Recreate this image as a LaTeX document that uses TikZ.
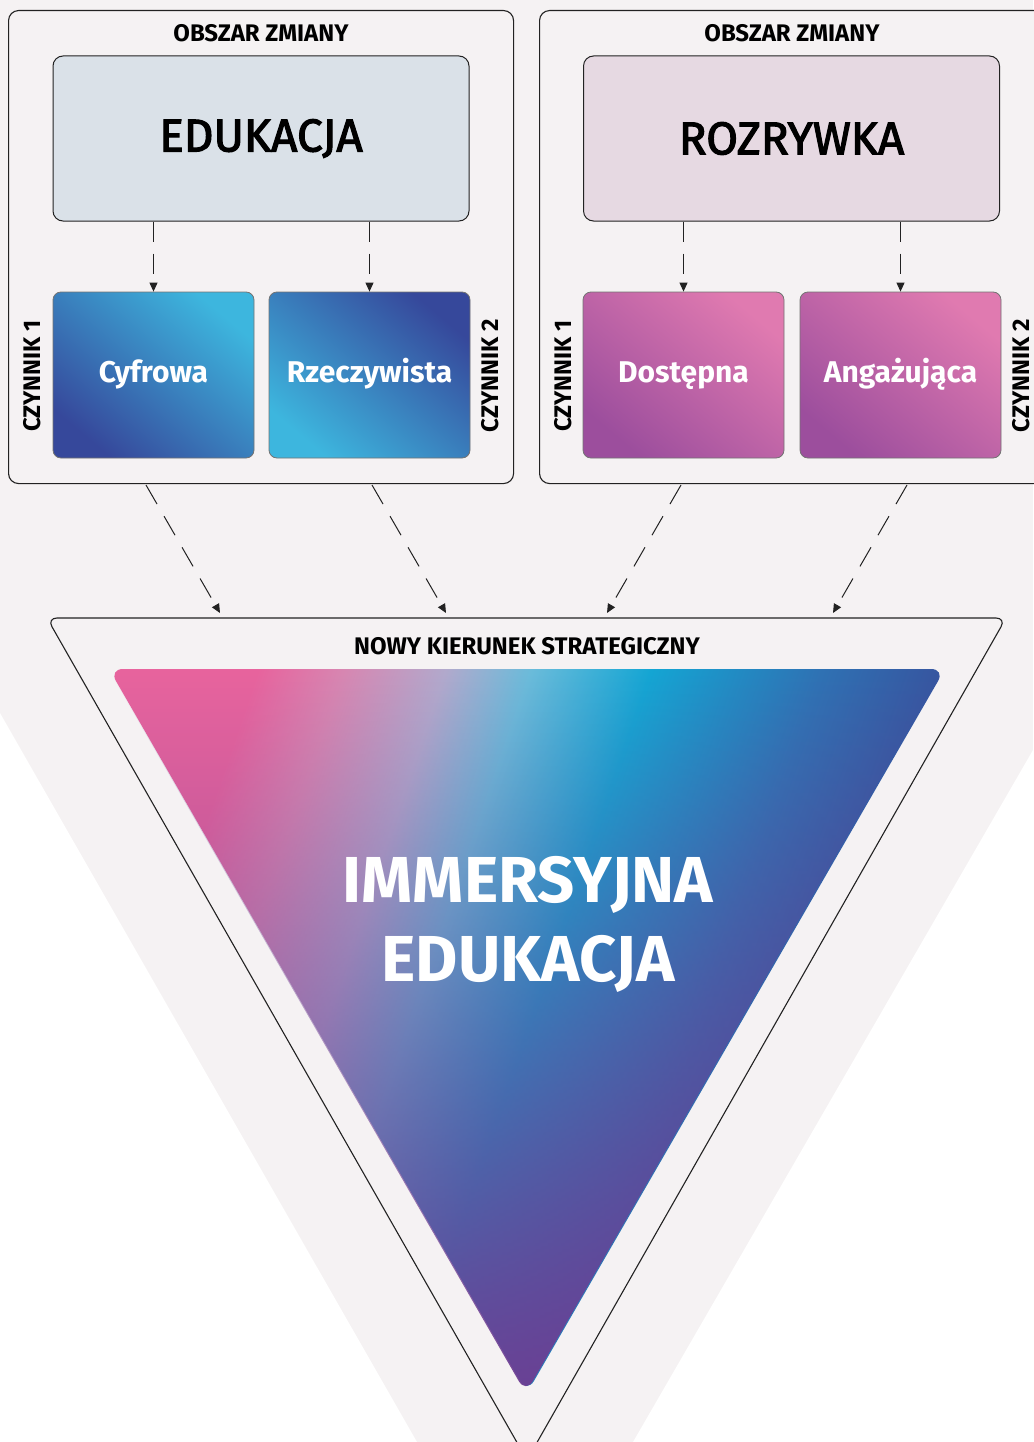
\documentclass[tikz,border=0pt]{standalone}
\usepackage{fontspec}
\setmainfont{Fira Sans}
\newfontfamily\medfont[FakeBold=2.5]{Fira Sans}
\usetikzlibrary{arrows.meta,fadings,calc}
\definecolor{bgc}{HTML}{F5F2F3}
\definecolor{edufill}{HTML}{DAE1E8}
\definecolor{rozfill}{HTML}{E6D9E2}
\definecolor{bdark}{HTML}{36489B}
\definecolor{bcyan}{HTML}{3DB6DE}
\definecolor{ppink}{HTML}{E07AB0}
\definecolor{ppurp}{HTML}{9C4E9D}
\definecolor{lineC}{HTML}{222222}
\definecolor{tpink}{HTML}{E8649E}
\definecolor{tpink2}{HTML}{D887B2}
\definecolor{tlav}{HTML}{B2AACD}
\definecolor{tlcyan}{HTML}{6ABCDB}
\definecolor{tcyan}{HTML}{14A6D4}
\definecolor{tblue}{HTML}{2F72B4}
\definecolor{tindigo}{HTML}{3A4A98}
\definecolor{tpurp}{HTML}{6E3D92}
\pgfdeclarehorizontalshading{trigrad}{100bp}{color(0bp)=(tpink); color(27bp)=(tpink); color(32bp)=(tpink2); color(38bp)=(tlav); color(43bp)=(tlcyan); color(50bp)=(tcyan); color(60bp)=(tblue); color(70bp)=(tindigo); color(100bp)=(tindigo)}
\tikzfading[name=fadedown, top color=transparent!100, middle color=transparent!90, bottom color=transparent!5]
\tikzset{
  areabox/.style={draw=lineC, line width=1.1pt, rounded corners=10pt, fill=bgc, inner sep=0pt},
  bigbox/.style={draw=lineC, line width=1pt, rounded corners=10pt, inner sep=0pt, minimum width=416pt, minimum height=165pt, font=\medfont\fontsize{46}{52}\selectfont, text=black},
  factor/.style={draw=black!55, line width=0.8pt, rounded corners=8pt, inner sep=0pt, minimum width=201pt, minimum height=166pt, text height=21pt, text depth=7pt, text=white, font=\bfseries\fontsize{30}{34}\selectfont},
  bluebox/.style={factor, top color=bcyan, bottom color=bdark, shading angle=-40},
  bluebox2/.style={factor, top color=bdark, bottom color=bcyan, shading angle=-40},
  pinkbox/.style={factor, top color=ppink, bottom color=ppurp, shading angle=-40},
  arealabel/.style={font=\bfseries\fontsize{24}{28}\selectfont, text=black},
  factlabel/.style={font=\bfseries\fontsize{24}{28}\selectfont, text=black, rotate=90},
  dasharrow/.style={draw=lineC, line width=1pt, dash pattern=on 20pt off 12pt, -{Triangle[length=9pt,width=8pt]}},
  diagarrow/.style={draw=lineC, line width=1pt, dash pattern=on 22pt off 14pt, -{Triangle[length=9pt,width=8pt]}}
}
\begin{document}
\begin{tikzpicture}[x=1pt,y=-1pt]
\useasboundingbox (0,0) rectangle (1033,1442);
\fill[bgc] (0,0) rectangle (1033,1442);
\fill[white] (0,713) -- (417,1442) -- (0,1442) -- cycle;
\fill[white] (1033,750) -- (633,1442) -- (1033,1442) -- cycle;

% area boxes
\node[areabox, minimum width=505pt, minimum height=473pt, anchor=north west] (areaL) at (8,10) {};
\node[areabox, minimum width=560pt, minimum height=473pt, anchor=north west] (areaR) at (539,10) {};
\node[arealabel] (olL) at (261,33) {OBSZAR ZMIANY};
\node[arealabel] (olR) at (792,33) {OBSZAR ZMIANY};

\node[bigbox, fill=edufill] (edu) at (261,138.5) {EDUKACJA};
\node[bigbox, fill=rozfill] (roz) at (791.5,138.5) {ROZRYWKA};

\node[bluebox] (cyf) at (153.5,375) {Cyfrowa};
\node[bluebox2] (rze) at (369.5,375) {Rzeczywista};
\node[pinkbox] (dos) at (683.5,375) {Dostępna};
\node[pinkbox] (ang) at (900.5,375) {Angażująca};

\node[factlabel] (c1L) at (32,376) {CZYNNIK 1};
\node[factlabel] (c2L) at (490,376) {CZYNNIK 2};
\node[factlabel] (c1R) at (563,376) {CZYNNIK 1};
\node[factlabel] (c2R) at (1021,376) {CZYNNIK 2};

\draw[dasharrow] (cyf.north |- edu.south) -- (cyf.north);
\draw[dasharrow] (rze.north |- edu.south) -- (rze.north);
\draw[dasharrow] (dos.north |- roz.south) -- (dos.north);
\draw[dasharrow] (ang.north |- roz.south) -- (ang.north);

% strategic triangle
\draw[draw=lineC, line width=1.1pt, rounded corners=10pt] (527,1460) -- (47,618) -- (1006,618) -- cycle;
\node[font=\bfseries\fontsize{24}{28}\selectfont] (nks) at (527,646) {NOWY KIERUNEK STRATEGICZNY};
\path[shading=trigrad, shading angle=-19, rounded corners=14pt] (527,1393) -- (109,669) -- (945,669) -- cycle;
\fill[tpurp, path fading=fadedown, rounded corners=14pt] (527,1393) -- (109,669) -- (945,669) -- cycle;
\node[text=white, font=\bfseries\fontsize{65}{79}\selectfont, align=center] (imm) at (528,924) {IMMERSYJNA\\EDUKACJA};

% arrows into triangle
\coordinate (s1) at (146,485); \coordinate (e1) at (220,613);
\coordinate (s2) at (372,485); \coordinate (e2) at (446,613);
\coordinate (s3) at (681,485); \coordinate (e3) at (607,613);
\coordinate (s4) at (907,485); \coordinate (e4) at (833,613);
\draw[diagarrow] (s1) -- (e1);
\draw[diagarrow] (s2) -- (e2);
\draw[diagarrow] (s3) -- (e3);
\draw[diagarrow] (s4) -- (e4);
\end{tikzpicture}
\end{document}
